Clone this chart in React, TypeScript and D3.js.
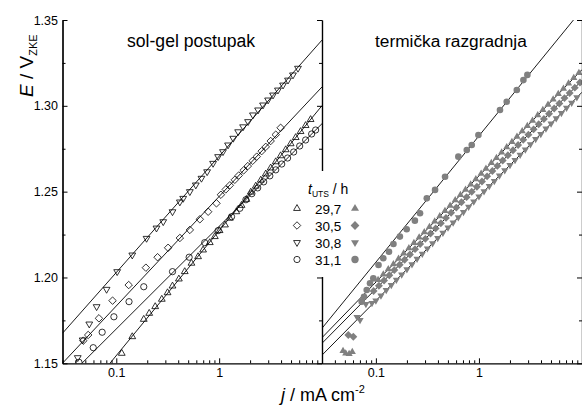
import React, { useEffect, useRef } from "react";
import * as d3 from "d3";

// legend / series order: 29,7  30,5  30,8  31,1
const legendLabels = ["29,7", "30,5", "30,8", "31,1"];
const symbolKinds = ["up", "diamond", "down", "circle"];

const yTickValues = [1.15, 1.2, 1.25, 1.3, 1.35];
const yMinorValues = [1.175, 1.225, 1.275, 1.325];
const xLabelValues = [0.1, 1];

// ---- sol-gel postupak (open symbols) ----
const sg297J = [0.113, 0.143, 0.185, 0.209, 0.239, 0.277, 0.315, 0.352, 0.406, 0.463, 0.538, 0.624, 0.698, 0.811, 0.908, 1.01, 1.14, 1.27, 1.47, 1.65, 1.84, 2.03, 2.27, 2.54, 2.84, 3.17, 3.55, 3.96, 4.44, 4.96, 5.55, 6.19, 6.93, 7.75];
const sg297E = [1.1558, 1.1655, 1.1756, 1.1791, 1.183, 1.1873, 1.1911, 1.195, 1.1991, 1.2034, 1.2083, 1.2121, 1.216, 1.2203, 1.2238, 1.2273, 1.2306, 1.2345, 1.2383, 1.242, 1.2455, 1.2497, 1.2532, 1.2567, 1.2603, 1.2638, 1.2674, 1.2709, 1.2744, 1.2779, 1.2815, 1.285, 1.2885, 1.292];

const sg305J = [0.0478, 0.0533, 0.0678, 0.092, 0.132, 0.194, 0.252, 0.319, 0.415, 0.519, 0.649, 0.782, 0.942, 1.04, 1.16, 1.27, 1.42, 1.55, 1.73, 1.9, 2.12, 2.32, 2.59, 2.84, 3.17, 3.55, 3.96];
const sg305E = [1.1632, 1.1665, 1.1762, 1.1865, 1.1956, 1.2057, 1.2118, 1.2173, 1.223, 1.2277, 1.2339, 1.2383, 1.2432, 1.2482, 1.2513, 1.2537, 1.2569, 1.2594, 1.2624, 1.2649, 1.268, 1.2704, 1.2736, 1.2761, 1.2795, 1.2832, 1.2872];

const sg308J = [0.0422, 0.0471, 0.0546, 0.0644, 0.0805, 0.102, 0.143, 0.197, 0.246, 0.286, 0.352, 0.415, 0.447, 0.519, 0.593, 0.673, 0.764, 0.873, 0.977, 1.09, 1.22, 1.37, 1.53, 1.71, 1.91, 2.13, 2.39, 2.67, 2.99, 3.34, 3.73, 4.18, 4.67, 5.22, 5.84];
const sg308E = [1.1533, 1.1636, 1.1729, 1.183, 1.1931, 1.2034, 1.2131, 1.2228, 1.2288, 1.2325, 1.2383, 1.244, 1.2461, 1.25, 1.2539, 1.2578, 1.2616, 1.2665, 1.2704, 1.2733, 1.2772, 1.2811, 1.2849, 1.2878, 1.2908, 1.2947, 1.2976, 1.3005, 1.3034, 1.3063, 1.3092, 1.3121, 1.315, 1.318, 1.3219];

const sg311J = [0.0434, 0.0597, 0.0729, 0.0948, 0.133, 0.185, 0.352, 0.511, 0.724, 0.977, 1.32, 1.59, 1.82, 2.08, 2.37, 2.71, 3.11, 3.55, 4.06, 4.63, 5.3, 6.07, 6.93, 7.93, 8.67];
const sg311E = [1.1506, 1.1591, 1.1681, 1.1771, 1.1859, 1.1946, 1.2034, 1.2118, 1.2203, 1.2273, 1.2354, 1.2403, 1.2453, 1.2488, 1.2522, 1.2557, 1.2592, 1.2627, 1.2661, 1.2696, 1.2731, 1.2766, 1.2801, 1.2836, 1.2859];

// ---- termička razgradnja (filled grey symbols) ----
const tr297J = [0.048, 0.051, 0.055, 0.059, 0.105, 0.118, 0.132, 0.148, 0.166, 0.186, 0.209, 0.234, 0.263, 0.295, 0.331, 0.372, 0.417, 0.468, 0.525, 0.589, 0.661, 0.741, 0.832, 0.933, 1.05, 1.17, 1.32, 1.48, 1.66, 1.86, 2.09, 2.34, 2.63, 2.95, 3.31, 3.72, 4.17, 4.68, 5.25, 5.89, 6.61, 7.41, 8.32, 9.33];
const tr297E = [1.1572, 1.1557, 1.1554, 1.1566, 1.1986, 1.2018, 1.2048, 1.2078, 1.2109, 1.214, 1.2171, 1.2201, 1.2233, 1.2264, 1.2295, 1.2326, 1.2357, 1.2388, 1.2419, 1.245, 1.2481, 1.2512, 1.2542, 1.2573, 1.2605, 1.2634, 1.2667, 1.2697, 1.2728, 1.2759, 1.279, 1.282, 1.2852, 1.2883, 1.2914, 1.2945, 1.2976, 1.3007, 1.3038, 1.3069, 1.31, 1.3131, 1.3162, 1.3192];

const tr305J = [0.054, 0.0604, 0.095, 0.107, 0.12, 0.135, 0.151, 0.17, 0.19, 0.214, 0.24, 0.269, 0.302, 0.339, 0.38, 0.427, 0.479, 0.537, 0.603, 0.676, 0.759, 0.851, 0.955, 1.07, 1.2, 1.35, 1.51, 1.7, 1.91, 2.14, 2.4, 2.69, 3.02, 3.39, 3.8, 4.27, 4.79, 5.37, 6.03, 6.76, 7.59, 8.51, 9.55];
const tr305E = [1.1665, 1.1655, 1.1921, 1.1952, 1.1982, 1.2013, 1.2043, 1.2074, 1.2103, 1.2134, 1.2165, 1.2195, 1.2225, 1.2256, 1.2286, 1.2316, 1.2347, 1.2377, 1.2407, 1.2438, 1.2468, 1.2499, 1.2529, 1.2559, 1.2589, 1.262, 1.265, 1.2681, 1.2712, 1.2741, 1.2772, 1.2802, 1.2832, 1.2863, 1.2893, 1.2923, 1.2954, 1.2984, 1.3014, 1.3045, 1.3075, 1.3106, 1.3136];

const tr308J = [0.0656, 0.0702, 0.08, 0.0916, 0.1, 0.112, 0.126, 0.141, 0.158, 0.178, 0.2, 0.224, 0.251, 0.282, 0.316, 0.355, 0.398, 0.447, 0.501, 0.562, 0.631, 0.708, 0.794, 0.891, 1.0, 1.12, 1.26, 1.41, 1.58, 1.78, 2.0, 2.24, 2.51, 2.82, 3.16, 3.55, 3.98, 4.47, 5.01, 5.62, 6.31, 7.08, 7.94, 8.91];
const tr308E = [1.177, 1.1752, 1.1845, 1.1851, 1.1865, 1.1895, 1.1926, 1.1955, 1.1986, 1.2017, 1.2048, 1.2077, 1.2108, 1.2138, 1.2169, 1.2199, 1.2229, 1.226, 1.229, 1.232, 1.2351, 1.2381, 1.2411, 1.2442, 1.2472, 1.2502, 1.2533, 1.2562, 1.2593, 1.2624, 1.2655, 1.2684, 1.2715, 1.2745, 1.2776, 1.2806, 1.2836, 1.2867, 1.2897, 1.2927, 1.2958, 1.2988, 1.3018, 1.3049];

const tr311J = [0.0728, 0.0767, 0.0815, 0.0877, 0.0944, 0.106, 0.118, 0.134, 0.148, 0.171, 0.199, 0.239, 0.268, 0.312, 0.375, 0.469, 0.631, 0.762, 0.851, 0.988, 1.6, 1.86, 2.33, 2.7, 2.95];
const tr311E = [1.1859, 1.1888, 1.1927, 1.1966, 1.1995, 1.2073, 1.2112, 1.215, 1.2195, 1.2238, 1.2281, 1.2331, 1.2374, 1.2461, 1.251, 1.2587, 1.2704, 1.2743, 1.2772, 1.283, 1.2976, 1.3024, 1.3092, 1.315, 1.318];

// Tafel fits, E = a + b * log10(j)
const sgFitA = [1.2273, 1.2472, 1.2706, 1.2298];
const sgFitB = [0.0728, 0.0638, 0.0677, 0.0598];
const trFitA = [1.2592, 1.2541, 1.2472, 1.2825];
const trFitB = [0.0619, 0.0607, 0.0607, 0.0736];

const FONT = "'Liberation Sans', Arial, Helvetica, sans-serif";
const GREY = "#808080";

function symbolPath(kind: string, s = 7): string {
  const h = (s * Math.sqrt(3)) / 2;
  if (kind === "up") return `M0,${(-h * 2) / 3}L${s / 2},${h / 3}L${-s / 2},${h / 3}Z`;
  if (kind === "down") return `M0,${(h * 2) / 3}L${s / 2},${-h / 3}L${-s / 2},${-h / 3}Z`;
  if (kind === "diamond") { const r = s * 0.55; return `M0,${-r}L${r},0L0,${r}L${-r},0Z`; }
  return d3.symbol(d3.symbolCircle, Math.PI * (s * 0.46) ** 2)() as string;
}

function App() {
  const svgRef = useRef<SVGSVGElement>(null);

  useEffect(() => {
    const svg = d3.select(svgRef.current);
    svg.selectAll("*").remove();

    const yTop = 20, yBot = 363.3;
    const y = d3.scaleLinear().domain([1.15, 1.35]).range([yBot, yTop]);
    const xL = d3.scaleLog().domain([0.03, 10]).range([62.5, 322]);
    const xR = d3.scaleLog().domain([0.03, 10]).range([322, 582]);

    const panels = [
      {
        id: "clipL", x: xL, open: true, fitA: sgFitA, fitB: sgFitB,
        series: [[sg297J, sg297E], [sg305J, sg305E], [sg308J, sg308E], [sg311J, sg311E]],
      },
      {
        id: "clipR", x: xR, open: false, fitA: trFitA, fitB: trFitB,
        series: [[tr297J, tr297E], [tr305J, tr305E], [tr308J, tr308E], [tr311J, tr311E]],
      },
    ];

    const defs = svg.append("defs");
    panels.forEach((p) => {
      const [r0, r1] = p.x.range();
      defs.append("clipPath").attr("id", p.id)
        .append("rect").attr("x", r0).attr("y", yTop).attr("width", r1 - r0).attr("height", yBot - yTop);
    });

    panels.forEach((p) => {
      const g = svg.append("g").attr("clip-path", `url(#${p.id})`);
      // fit lines over the whole x domain of the panel
      const fitLine = d3.line<number>().x((j) => p.x(j));
      p.fitA.forEach((a, k) => {
        g.append("path")
          .attr("d", fitLine.y((j) => y(a + p.fitB[k] * Math.log10(j)))(p.x.domain()))
          .attr("fill", "none").attr("stroke", "#000").attr("stroke-width", 0.9);
      });
      // markers
      p.series.forEach(([js, es], k) => {
        const d = symbolPath(symbolKinds[k], p.open ? 6.8 : 7.2);
        g.selectAll(`.m${k}`)
          .data(js.map((j, i) => [j, es[i]]))
          .join("path")
          .attr("class", `m${k}`)
          .attr("d", d)
          .attr("transform", (v) => `translate(${p.x(v[0])},${y(v[1])})`)
          .attr("fill", p.open ? "none" : GREY)
          .attr("stroke", p.open ? "#000" : "none")
          .attr("stroke-width", 0.8);
      });
    });

    // axes
    const styleAxis = (sel: d3.Selection<SVGGElement, unknown, null, undefined>) => {
      sel.attr("font-family", FONT).attr("font-size", 12.5);
      sel.selectAll("path.domain").attr("stroke", "#000").attr("stroke-width", 1.2);
      sel.selectAll(".tick line").attr("stroke", "#000").attr("stroke-width", 1);
      sel.selectAll(".tick text").attr("fill", "#000");
    };

    panels.forEach((p) => {
      const minor = p.x.ticks().filter((t) => Math.abs(Math.log10(t) % 1) > 1e-6);
      const gMinor = svg.append("g").attr("transform", `translate(0,${yBot})`)
        .call(d3.axisBottom(p.x).tickValues(minor).tickSize(-3).tickSizeOuter(0).tickFormat(() => ""));
      styleAxis(gMinor);
      const gMajor = svg.append("g").attr("transform", `translate(0,${yBot})`)
        .call(d3.axisBottom(p.x).tickValues(xLabelValues.concat([10])).tickSize(-5).tickSizeOuter(0)
          .tickPadding(5).tickFormat((d) => (+d >= 10 ? "" : String(d))));
      styleAxis(gMajor);
      gMajor.select("path.domain").remove();
    });

    const gLeft = svg.append("g").attr("transform", "translate(62.5,0)")
      .call(d3.axisLeft(y).tickValues(yTickValues).tickSize(-5).tickSizeOuter(0).tickPadding(4.5).tickFormat(d3.format(".2f")));
    styleAxis(gLeft);
    const gLeftMinor = svg.append("g").attr("transform", "translate(62.5,0)")
      .call(d3.axisLeft(y).tickValues(yMinorValues).tickSize(-3).tickSizeOuter(0).tickFormat(() => ""));
    styleAxis(gLeftMinor);

    [322, 582].forEach((xp) => {
      const gM = svg.append("g").attr("transform", `translate(${xp},0)`)
        .call(d3.axisRight(y).tickValues(yTickValues).tickSize(-5).tickSizeOuter(0).tickFormat(() => ""));
      styleAxis(gM);
      const gm = svg.append("g").attr("transform", `translate(${xp},0)`)
        .call(d3.axisRight(y).tickValues(yMinorValues).tickSize(-3).tickSizeOuter(0).tickFormat(() => ""));
      styleAxis(gm);
    });

    // panel titles
    svg.append("text").attr("x", 127).attr("y", 47).attr("font-family", FONT).attr("font-size", 17.6)
      .text("sol-gel postupak");
    svg.append("text").attr("x", 375).attr("y", 47).attr("font-family", FONT).attr("font-size", 17.3)
      .text("termička razgradnja");

    // legend
    const lg = svg.append("g");
    lg.append("rect").attr("x", 292).attr("y", 171).attr("width", 52).attr("height", 106).attr("fill", "#fff");
    const lt = lg.append("text").attr("x", 308).attr("y", 193.5).attr("font-family", FONT).attr("font-size", 14);
    lt.append("tspan").attr("font-style", "italic").text("t");
    lt.append("tspan").attr("font-size", 8.5).attr("dy", 3).text("UTS");
    lt.append("tspan").attr("dy", -3).text(" / h");
    legendLabels.forEach((lab, i) => {
      const cy = 208.5 + i * 17;
      lg.append("path").attr("d", symbolPath(symbolKinds[i], 6.8)).attr("transform", `translate(297,${cy})`)
        .attr("fill", "none").attr("stroke", "#000").attr("stroke-width", 0.8);
      lg.append("text").attr("x", 315).attr("y", cy + 5).attr("font-family", FONT).attr("font-size", 13.5).text(lab);
      lg.append("path").attr("d", symbolPath(symbolKinds[i], 8)).attr("transform", `translate(355,${cy})`)
        .attr("fill", GREY);
    });

    // axis titles
    const yt = svg.append("text").attr("transform", "translate(33,97) rotate(-90)")
      .attr("font-family", FONT).attr("font-size", 19);
    yt.append("tspan").attr("font-style", "italic").text("E");
    yt.append("tspan").text(" / V");
    yt.append("tspan").attr("font-size", 11).attr("dy", 4).text("ZKE");

    const xt = svg.append("text").attr("x", 281).attr("y", 401)
      .attr("font-family", FONT).attr("font-size", 18);
    xt.append("tspan").attr("font-style", "italic").text("j");
    xt.append("tspan").text(" / mA cm");
    xt.append("tspan").attr("font-size", 11).attr("dy", -8).text("-2");
  }, []);

  return (
    <div>
      <style>{"body{margin:0;background:#fff}"}</style>
      <svg ref={svgRef} width={582} height={405} style={{ display: "block" }} />
    </div>
  );
}

export default App;
